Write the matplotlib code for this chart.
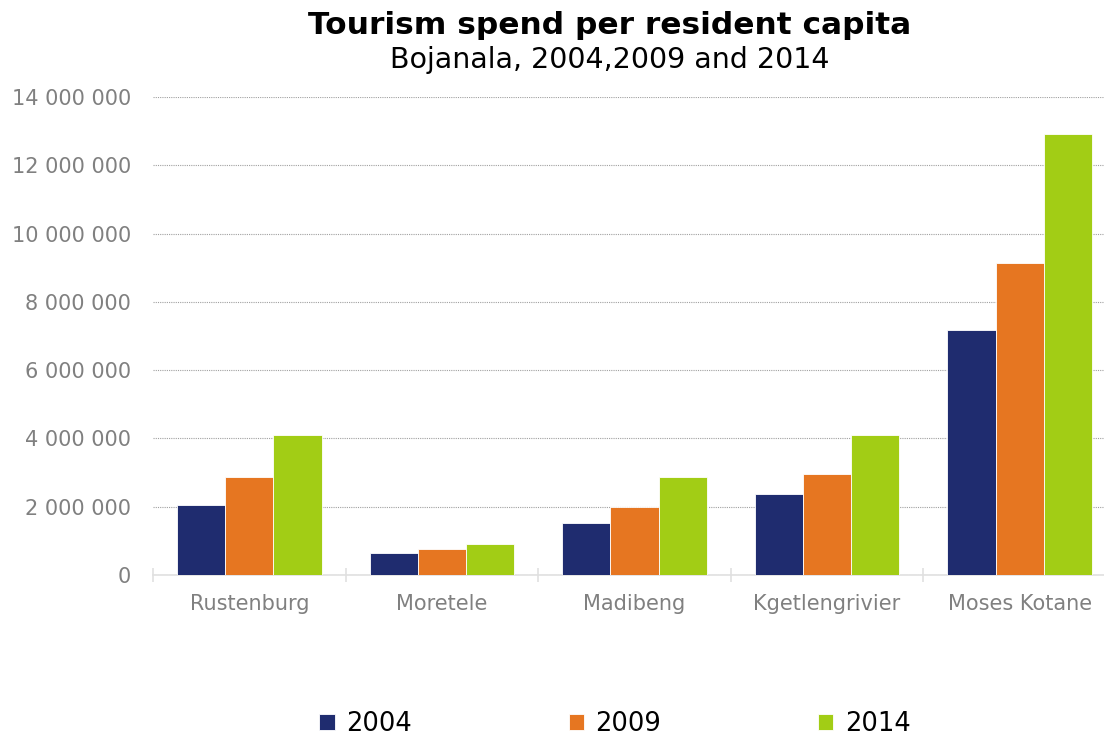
import numpy as np
import matplotlib.pyplot as plt
from matplotlib.ticker import FuncFormatter, MultipleLocator

# Data
regions = ['Rustenburg', 'Moretele', 'Madibeng', 'Kgetlengrivier', 'Moses Kotane']
years = ['2004', '2009', '2014']
spend_2004 = [2050000, 640000, 1520000, 2370000, 7170000]
spend_2009 = [2870000, 760000, 1990000, 2960000, 9140000]
spend_2014 = [4100000, 910000, 2870000, 4100000, 12910000]
colors = ['#1F2C6F', '#E67621', '#A2CD15']

fig = plt.figure(figsize=(11.04, 7.37), dpi=100)
ax = fig.add_axes([153 / 1104, 1 - 575 / 737, (1116 - 153) / 1104, (575 - 97) / 737])

x = np.arange(len(regions))
w = 0.25
for i, vals in enumerate([spend_2004, spend_2009, spend_2014]):
    ax.bar(x + (i - 1) * w, vals, width=w, color=colors[i], label=years[i],
           edgecolor='white', linewidth=0.6, zorder=3)

ax.set_xlim(-0.5, len(regions) - 0.5)
ax.set_ylim(0, 14000000)
ax.yaxis.set_major_locator(MultipleLocator(2000000))
ax.yaxis.set_major_formatter(FuncFormatter(lambda v, p: f'{int(v):,}'.replace(',', ' ')))
ax.grid(axis='y', color='#A0A0A0', linestyle=(0, (1, 1)), linewidth=0.8, zorder=0)

for s in ['left', 'right', 'top']:
    ax.spines[s].set_visible(False)
ax.spines['bottom'].set_color('#E0E0E0')
ax.spines['bottom'].set_linewidth(1.2)

ax.set_xticks(x)
ax.set_xticklabels(regions)
ax.set_xticks(np.arange(-0.5, len(regions) + 0.5, 1), minor=True)
ax.tick_params(axis='x', which='major', length=0, pad=14, labelsize=15, labelcolor='#808080')
ax.tick_params(axis='x', which='minor', length=10, direction='inout', color='#E0E0E0', width=1.2)
ax.tick_params(axis='y', length=0, pad=16, labelsize=15, labelcolor='#808080')

fig.text(0.5525, 1 - 25 / 737, 'Tourism spend per resident capita', ha='center', va='center',
         fontsize=22.5, fontweight='bold')
fig.text(0.5525, 1 - 60 / 737, 'Bojanala, 2004,2009 and 2014', ha='center', va='center', fontsize=20.5)

fig.legend(loc='center', bbox_to_anchor=(0.557, 1 - 724 / 737), ncol=3, frameon=False,
           fontsize=18.5, handlelength=0.6, handleheight=0.6, handletextpad=0.45,
           columnspacing=6.1)

fig.savefig('out.png', dpi=100)
